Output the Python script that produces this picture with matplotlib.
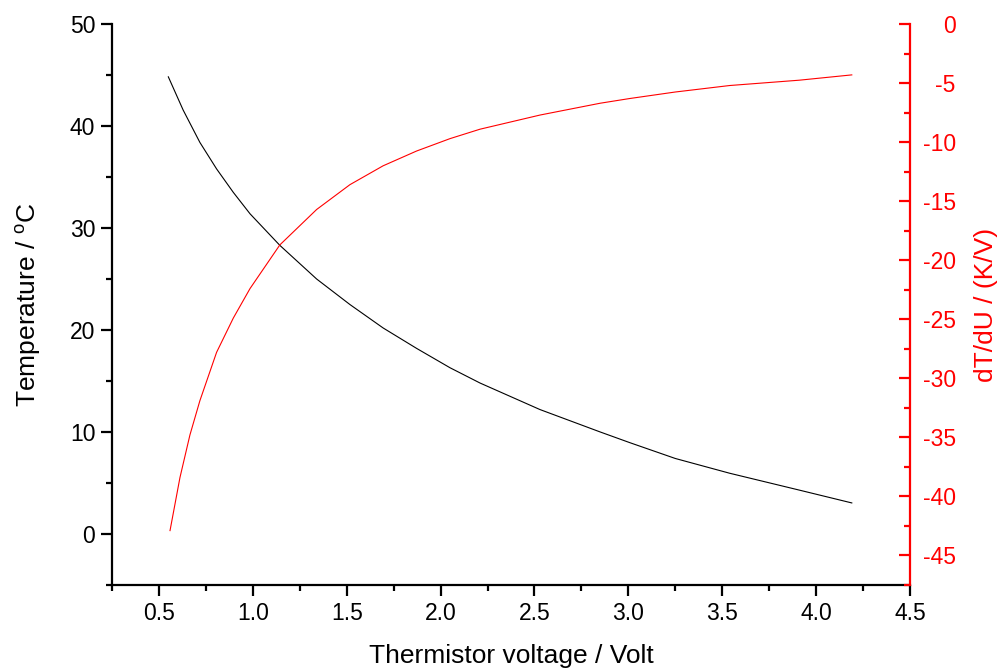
import matplotlib
matplotlib.use("Agg")
import matplotlib.pyplot as plt
from matplotlib.ticker import MultipleLocator

plt.rcParams['font.family'] = ['Liberation Sans', 'DejaVu Sans']
plt.rcParams['mathtext.fontset'] = 'custom'
plt.rcParams['mathtext.rm'] = 'Liberation Sans'
plt.rcParams['axes.unicode_minus'] = False

# Temperature vs. thermistor voltage
volt_T = [0.550, 0.629, 0.718, 0.807, 0.896, 0.985, 1.144, 1.34, 1.517, 1.694, 1.872,
          2.05, 2.21, 2.529, 2.85, 3.008, 3.25, 3.54, 3.91, 4.19]
temp = [44.83, 41.57, 38.4, 35.8, 33.5, 31.4, 28.3, 25.0, 22.5, 20.2, 18.2,
        16.3, 14.8, 12.2, 10.0, 8.95, 7.4, 5.95, 4.3, 3.04]

# Derivative dT/dU
volt_D = [0.559, 0.612, 0.665, 0.718, 0.807, 0.896, 0.985, 1.144, 1.34, 1.517, 1.694,
          1.872, 2.05, 2.21, 2.53, 2.85, 3.008, 3.25, 3.54, 3.91, 4.19]
dTdU = [-42.9, -38.4, -34.8, -31.9, -27.8, -24.9, -22.4, -18.7, -15.7, -13.6, -12.0,
        -10.75, -9.7, -8.9, -7.7, -6.7, -6.3, -5.75, -5.2, -4.75, -4.3]

fig = plt.figure(figsize=(10, 6.7), dpi=100)
ax = fig.add_axes([0.112, 0.127, 0.798, 0.837])
ax2 = ax.twinx()

ax.plot(volt_T, temp, color='black', lw=0.8)
ax2.plot(volt_D, dTdU, color='red', lw=0.8)

ax.set_xlim(0.25, 4.5)
ax.set_ylim(-5, 50)
ax2.set_ylim(-47.5, 0)

ax.xaxis.set_major_locator(MultipleLocator(0.5))
ax.xaxis.set_minor_locator(MultipleLocator(0.25))
ax.yaxis.set_major_locator(MultipleLocator(10))
ax.yaxis.set_minor_locator(MultipleLocator(5))
ax2.yaxis.set_major_locator(MultipleLocator(5))
ax2.yaxis.set_minor_locator(MultipleLocator(2.5))
ax.xaxis.set_major_formatter(lambda v, p: f"{v:.1f}")

for a in (ax, ax2):
    a.spines['top'].set_visible(False)
    for s in a.spines.values():
        s.set_linewidth(1.6)
ax.spines['right'].set_visible(False)
ax2.spines['left'].set_visible(False)
ax2.spines['bottom'].set_visible(False)
ax2.spines['right'].set_color('red')

ax.tick_params(axis='both', which='major', direction='out', length=8, width=1.6,
               labelsize=16.5, pad=4)
ax.tick_params(axis='both', which='minor', direction='out', length=4, width=1.6)
ax2.tick_params(axis='y', which='major', direction='in', length=8, width=1.6,
                color='red', labelcolor='red', labelsize=16.5, pad=33)
ax2.tick_params(axis='y', which='minor', direction='in', length=4, width=1.6, color='red')
for lbl in ax2.get_yticklabels():
    lbl.set_horizontalalignment('right')

ax.set_xlabel('Thermistor voltage / Volt', fontsize=19, labelpad=14)
ax.set_ylabel('Temperature / $^{\\rm o}$C', fontsize=19, labelpad=19)
ax2.set_ylabel('dT/dU / (K/V)', fontsize=19, color='red', labelpad=13)

fig.savefig('out.png', dpi=100)
